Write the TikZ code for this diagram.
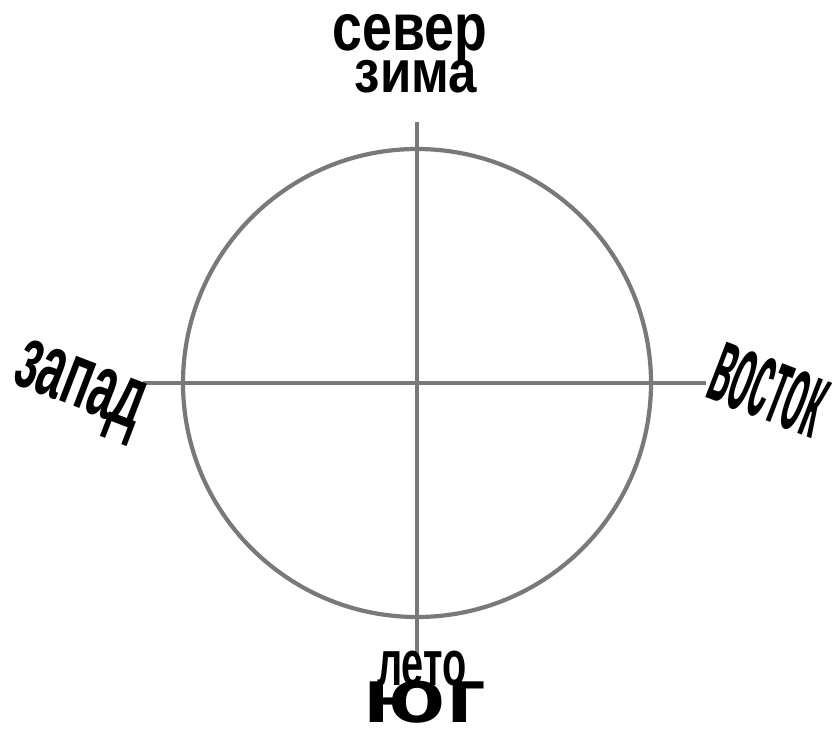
\documentclass[tikz,border=0pt]{standalone}
\usepackage{fontspec}
\setmainfont{Liberation Sans}
\begin{document}
\begin{tikzpicture}[x=1pt,y=-1pt,
  axis/.style={draw=gray!95!black, line width=4.2pt},
  lbl/.style={font=\bfseries, inner sep=0pt, text=black}]
\useasboundingbox (0,0) rectangle (838,731);
\coordinate (c) at (417,383);
\coordinate (n) at (417,122);
\coordinate (s) at (417,660);
\coordinate (w) at (143,383);
\coordinate (e) at (706,383);
\draw[axis] (c) circle[radius=234];
\draw[axis] (n) -- (s);
\draw[axis] (w) -- (e);
\node[lbl, anchor=base, xscale=0.8, font=\bfseries\fontsize{67}{67}\selectfont] (sever) at (410,50) {север};
\node[lbl, anchor=base, xscale=0.85, font=\bfseries\fontsize{60}{60}\selectfont] (zima) at (416,92) {зима};
\node[lbl, anchor=base, xscale=0.62, font=\bfseries\fontsize{64}{64}\selectfont] (leto) at (422,685) {лето};
\node[lbl, anchor=base, xscale=1.25, font=\bfseries\fontsize{77}{77}\selectfont] (yug) at (425,722) {юг};
\node[lbl, rotate=-21, xscale=0.52, font=\bfseries\fontsize{90}{90}\selectfont] (zapad) at (78,392) {запад};
\node[lbl, rotate=-21, xscale=0.31, font=\bfseries\fontsize{112}{112}\selectfont] (vostok) at (768,390) {восток};
\end{tikzpicture}
\end{document}
